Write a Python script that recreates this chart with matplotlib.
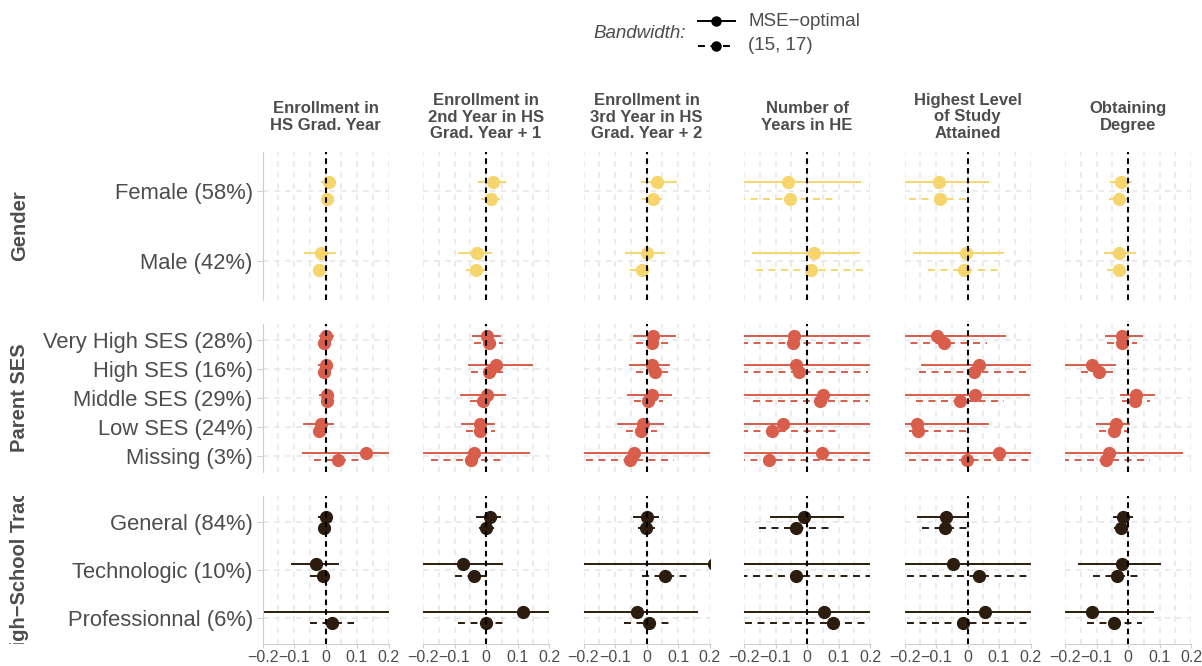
import matplotlib.pyplot as plt
from matplotlib.transforms import Bbox, TransformedBbox

plt.rcParams['font.family'] = ['Liberation Sans', 'DejaVu Sans']
plt.rcParams['lines.scale_dashes'] = False

# column facets (outcomes)
outcomes = ['Enrollment in\nHS Grad. Year',
            'Enrollment in\n2nd Year in HS\nGrad. Year + 1',
            'Enrollment in\n3rd Year in HS\nGrad. Year + 2',
            'Number of\nYears in HE',
            'Highest Level\nof Study\nAttained',
            'Obtaining\nDegree']

# row facets and their groups
facets = ['Gender', 'Parent SES', 'High\u2212School Track']
groups = [['Female (58%)', 'Male (42%)'],
          ['Very High SES (28%)', 'High SES (16%)', 'Middle SES (29%)',
           'Low SES (24%)', 'Missing (3%)'],
          ['General (84%)', 'Technologic (10%)', 'Professionnal (6%)']]
facet_colors = ['#F6D66C', '#D95D4B', '#2B1C0D']

# (estimate, ci low, ci high) for the 10 groups, in order:
# Female, Male, VeryHigh, High, Middle, Low, Missing, General, Technologic, Professionnal
enroll0_mse = [(0.010, -0.012, 0.025), (-0.014, -0.064, 0.031),
               (0.001, -0.019, 0.025), (0.001, -0.022, 0.020), (0.004, -0.017, 0.025),
               (-0.014, -0.067, 0.025), (0.130, -0.072, 0.260),
               (0.000, -0.022, 0.015), (-0.030, -0.106, 0.039), (0.240, -0.450, 0.900)]
enroll0_fix = [(0.006, -0.004, 0.015), (-0.020, -0.030, -0.008),
               (-0.006, -0.018, 0.008), (-0.006, -0.020, 0.012), (0.004, -0.012, 0.018),
               (-0.022, -0.030, -0.005), (0.039, -0.038, 0.115),
               (-0.006, -0.015, 0.004), (-0.008, -0.049, 0.018), (0.021, -0.049, 0.091)]

enroll1_mse = [(0.021, -0.022, 0.059), (-0.028, -0.085, 0.015),
               (0.003, -0.040, 0.046), (0.033, -0.054, 0.146), (0.004, -0.079, 0.061),
               (-0.020, -0.077, 0.024), (-0.039, -0.250, 0.137),
               (0.013, -0.027, 0.046), (-0.072, -0.250, 0.050), (0.116, -0.300, 0.300)]
enroll1_fix = [(0.016, -0.015, 0.045), (-0.032, -0.063, -0.003),
               (0.009, -0.038, 0.055), (0.011, -0.047, 0.060), (-0.011, -0.051, 0.013),
               (-0.019, -0.063, 0.028), (-0.049, -0.174, 0.062),
               (0.000, -0.023, 0.025), (-0.037, -0.098, 0.011), (-0.001, -0.088, 0.063)]

enroll2_mse = [(0.033, -0.015, 0.093), (0.000, -0.065, 0.055),
               (0.020, -0.039, 0.092), (0.016, -0.051, 0.073), (0.019, -0.058, 0.079),
               (-0.012, -0.089, 0.051), (-0.039, -0.300, 0.300),
               (0.001, -0.039, 0.038), (0.215, -0.250, 0.700), (-0.030, -0.250, 0.160)]
enroll2_fix = [(0.020, -0.013, 0.051), (-0.013, -0.053, 0.013),
               (0.017, -0.034, 0.069), (0.027, -0.034, 0.072), (0.006, -0.039, 0.053),
               (-0.017, -0.066, 0.034), (-0.053, -0.192, 0.086),
               (-0.001, -0.028, 0.026), (0.060, -0.013, 0.137), (0.008, -0.072, 0.079)]

years_mse = [(-0.061, -0.250, 0.168), (0.021, -0.170, 0.165),
             (-0.041, -0.300, 0.300), (-0.035, -0.300, 0.300), (0.050, -0.300, 0.300),
             (-0.077, -0.300, 0.300), (0.049, -0.300, 0.300),
             (-0.009, -0.115, 0.115), (0.300, -0.400, 0.900), (0.055, -0.300, 0.300)]
years_fix = [(-0.053, -0.220, 0.099), (0.012, -0.161, 0.184),
             (-0.043, -0.210, 0.176), (-0.024, -0.210, 0.194), (0.041, -0.170, 0.194),
             (-0.112, -0.210, 0.104), (-0.120, -0.300, 0.300),
             (-0.034, -0.152, 0.083), (-0.035, -0.250, 0.250), (0.081, -0.196, 0.250)]

level_mse = [(-0.090, -0.220, 0.064), (-0.004, -0.169, 0.112),
             (-0.098, -0.220, 0.119), (0.035, -0.145, 0.250), (0.025, -0.194, 0.196),
             (-0.160, -0.220, 0.064), (0.101, -0.300, 0.300),
             (-0.069, -0.158, 0.003), (-0.047, -0.300, 0.300), (0.056, -0.300, 0.300)]
level_fix = [(-0.086, -0.187, 0.000), (-0.012, -0.124, 0.101),
             (-0.075, -0.220, 0.061), (0.021, -0.155, 0.250), (-0.024, -0.162, 0.116),
             (-0.157, -0.187, -0.002), (-0.003, -0.187, 0.250),
             (-0.071, -0.145, 0.000), (0.035, -0.192, 0.250), (-0.014, -0.192, 0.250)]

degree_mse = [(-0.021, -0.054, 0.009), (-0.027, -0.072, 0.023),
              (-0.018, -0.071, 0.043), (-0.115, -0.210, -0.041), (0.025, -0.023, 0.084),
              (-0.039, -0.097, 0.004), (-0.060, -0.210, 0.173),
              (-0.017, -0.046, 0.013), (-0.019, -0.155, 0.103), (-0.113, -0.210, 0.080)]
degree_fix = [(-0.028, -0.060, -0.002), (-0.027, -0.066, -0.008),
              (-0.019, -0.068, 0.030), (-0.091, -0.149, -0.041), (0.023, -0.020, 0.070),
              (-0.044, -0.092, 0.001), (-0.070, -0.210, 0.070),
              (-0.021, -0.046, 0.001), (-0.034, -0.110, 0.040), (-0.044, -0.131, 0.043)]

results = [(enroll0_mse, enroll0_fix), (enroll1_mse, enroll1_fix),
           (enroll2_mse, enroll2_fix), (years_mse, years_fix),
           (level_mse, level_fix), (degree_mse, degree_fix)]

bandwidths = ['MSE\u2212optimal', '(15, 17)']
bw_styles = ['-', (0, (5, 4))]
bw_offset = [-0.12, 0.12]

W, H = 1202, 666
fig = plt.figure(figsize=(W / 100, H / 100), dpi=100)

col_left = [262.5 + 160.5 * i for i in range(6)]
col_w = 126
row_top = [152, 324, 496]
row_h = 148
txt = '#4D4D4D'
axis_col = '#CFCFCF'


def px_rect(x, y, w, h):
    return [x / W, 1 - (y + h) / H, w / W, h / H]


start = 0
for r, grp in enumerate(groups):
    n = len(grp)
    for c in range(6):
        ax = fig.add_axes(px_rect(col_left[c], row_top[r], col_w, row_h))
        ax.set_xlim(-0.2, 0.2)
        ax.set_ylim(n - 1 + 0.55, -0.55)
        ax.set_xticks([-0.2, -0.1, 0, 0.1, 0.2])
        ax.set_xticks([-0.15, -0.05, 0.05, 0.15], minor=True)
        ax.set_yticks(range(n))
        ax.grid(which='both', color='#E6E6E6', linestyle=(0, (4, 4)), linewidth=1.1, zorder=0)
        ax.tick_params(which='minor', length=0)
        for s in ax.spines.values():
            s.set_visible(False)
        ax.tick_params(axis='both', colors=axis_col, length=4, width=0.8, labelcolor=txt)
        if c == 0:
            ax.spines['left'].set_visible(True)
            ax.spines['left'].set_color(axis_col)
            ax.set_yticklabels(grp, fontsize=15.8)
            ax.tick_params(axis='y', pad=3)
        else:
            ax.tick_params(axis='y', length=0, labelleft=False)
        if r == 2:
            ax.spines['bottom'].set_visible(True)
            ax.spines['bottom'].set_color(axis_col)
            ax.set_xticklabels(['\u22120.2', '\u22120.1', '0', '0.1', '0.2'], fontsize=11.5)
            ax.tick_params(axis='x', length=3, pad=1)
        else:
            ax.tick_params(axis='x', length=0, labelbottom=False)

        for b in range(2):
            vals = results[c][b][start:start + n]
            for k, (est, lo, hi) in enumerate(vals):
                y = k + bw_offset[b]
                ax.plot([lo, hi], [y, y], color=facet_colors[r], lw=1.4,
                        ls=bw_styles[b], zorder=2)
                ax.plot(est, y, 'o', ms=8.5, color=facet_colors[r], zorder=3)
        ax.axvline(0, color='black', lw=1.5, ls=(0, (4, 3)), zorder=4)

        if c == 0:
            t = fig.text(20 / W, 1 - (row_top[r] + row_h / 2) / H, facets[r],
                         rotation=90, ha='center', va='center', fontsize=14.5,
                         fontweight='bold', color=txt)
            t.set_clip_box(TransformedBbox(Bbox([[-20, 0], [1, 1]]), ax.transAxes))
            t.set_clip_on(True)
    start += n

# column strip labels
for c, name in enumerate(outcomes):
    fig.text((col_left[c] + col_w / 2) / W, 1 - 117 / H, name, ha='center', va='center',
             multialignment='center', fontsize=12, fontweight='bold', color=txt,
             linespacing=1.13)

# legend
lg = fig.add_axes([0, 0, 1, 1], zorder=-1)
lg.set_xlim(0, W)
lg.set_ylim(H, 0)
lg.axis('off')
lg.text(686, 34, 'Bandwidth:', ha='right', va='center', fontsize=13.5,
        style='italic', color=txt)
for i, lab in enumerate(bandwidths):
    y = 21 + 25 * i
    lg.plot([698, 735], [y, y], color='black', lw=1.4, ls=bw_styles[i])
    lg.plot(716, y, 'o', ms=6.5, color='black')
    lg.text(748, y, lab, ha='left', va='center', fontsize=13.5, color=txt)

fig.savefig('out.png', dpi=100)
